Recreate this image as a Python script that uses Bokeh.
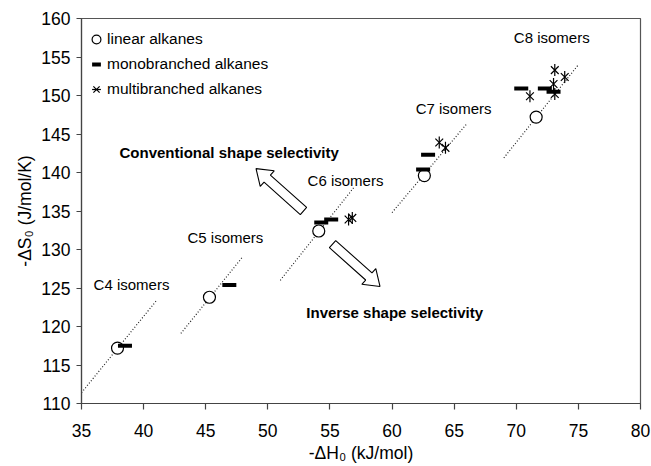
import math
from bokeh.plotting import figure
from bokeh.models import Legend, LegendItem, FixedTicker
from bokeh.core.properties import value
from bokeh.embed import file_html
from bokeh.resources import INLINE

# ---- data ----
linear_x = [37.9, 45.3, 54.1, 62.6, 71.6]
linear_y = [117.2, 123.8, 132.4, 139.6, 147.2]

mono_x = [38.5, 46.9, 54.3, 55.1, 62.5, 62.9, 70.4, 72.3, 73.0]
mono_y = [117.5, 125.4, 133.5, 133.9, 140.4, 142.3, 150.9, 150.9, 150.5]

multi_x = [56.5, 56.8, 63.8, 64.3, 71.1, 73.1, 73.9, 73.0, 73.1]
multi_y = [133.9, 134.1, 143.9, 143.2, 149.9, 153.3, 152.4, 151.5, 150.2]

trend_x0 = [35.0, 43.0, 51.0, 60.0, 69.0]
trend_y0 = [111.4, 119.1, 126.0, 134.8, 141.9]
trend_x1 = [41.0, 47.9, 56.9, 66.0, 75.0]
trend_y1 = [123.3, 128.9, 138.0, 146.3, 154.0]

group_labels = ["C4 isomers", "C5 isomers", "C6 isomers", "C7 isomers", "C8 isomers"]
x_ticks = [35, 40, 45, 50, 55, 60, 65, 70, 75, 80]
y_ticks = [110, 115, 120, 125, 130, 135, 140, 145, 150, 155, 160]

# ---- layout ----
X_MIN, X_MAX, Y_MIN, Y_MAX = 35, 80, 110, 160
W, H = 651, 466
BL, BR, BT, BB = 81, 11, 18, 63
FW, FH = W - BL - BR, H - BT - BB
SX = FW / (X_MAX - X_MIN)
SY = FH / (Y_MAX - Y_MIN)
FONT = "Liberation Sans"

p = figure(width=W, height=H, x_range=(X_MIN, X_MAX), y_range=(Y_MIN, Y_MAX),
           output_backend="svg", toolbar_location=None,
           min_border_left=BL, min_border_right=BR, min_border_top=BT, min_border_bottom=BB)
p.xgrid.visible = False
p.ygrid.visible = False
p.outline_line_color = "#555555"
p.outline_line_width = 1.2
p.background_fill_color = "white"
p.border_fill_color = "white"

for ax in (p.xaxis[0], p.yaxis[0]):
    ax.axis_line_color = "#444444"
    ax.axis_line_width = 1.2
    ax.major_tick_line_color = "#444444"
    ax.major_tick_line_width = 1.2
    ax.major_tick_in = 0
    ax.minor_tick_line_color = None
    ax.major_label_text_font = FONT
    ax.major_label_text_font_size = "17.5px"
    ax.major_label_text_color = "black"
    ax.axis_label_text_font = FONT
    ax.axis_label_text_font_size = "17.5px"
    ax.axis_label_text_font_style = "normal"
    ax.axis_label_text_color = "black"

p.xaxis.ticker = FixedTicker(ticks=x_ticks)
p.yaxis.ticker = FixedTicker(ticks=y_ticks)
p.xaxis.major_tick_out = 6
p.yaxis.major_tick_out = 5
p.xaxis.major_label_standoff = 14
p.yaxis.major_label_standoff = 6
p.xaxis.axis_label = "-ΔH₀ (kJ/mol)"
p.yaxis.axis_label = "-ΔS₀ (J/mol/K)"
p.xaxis.axis_label_standoff = 3
p.yaxis.axis_label_standoff = 3

# dotted trend lines
p.segment(x0=trend_x0, y0=trend_y0, x1=trend_x1, y1=trend_y1,
          line_color="#222222", line_width=1.2, line_dash="1 2")

# hollow block arrows
def block_arrow(x0, y0, x1, y1, shaft=9.5, head_w=21.0, head_len=15.0):
    ax0, ay0 = x0 * SX, y0 * SY
    ax1, ay1 = x1 * SX, y1 * SY
    dx, dy = ax1 - ax0, ay1 - ay0
    L = math.hypot(dx, dy)
    ux, uy = dx / L, dy / L
    nx, ny = -uy, ux
    bx, by = ax1 - ux * head_len, ay1 - uy * head_len
    pts = [
        (ax0 + nx * shaft / 2, ay0 + ny * shaft / 2),
        (bx + nx * shaft / 2, by + ny * shaft / 2),
        (bx + nx * head_w / 2, by + ny * head_w / 2),
        (ax1, ay1),
        (bx - nx * head_w / 2, by - ny * head_w / 2),
        (bx - nx * shaft / 2, by - ny * shaft / 2),
        (ax0 - nx * shaft / 2, ay0 - ny * shaft / 2),
    ]
    return [q[0] / SX for q in pts], [q[1] / SY for q in pts]

for (a, b, c, d) in [(52.87, 135.0, 49.05, 140.5), (55.21, 130.7, 59.03, 125.2)]:
    xs, ys = block_arrow(a, b, c, d)
    p.patch(xs, ys, fill_color="white", line_color="black", line_width=1.1)

# markers
r_lin = p.scatter(linear_x, linear_y, marker="circle", size=12,
                  fill_color="white", line_color="black", line_width=1.2)
r_mono = p.scatter(mono_x, mono_y, marker="dash", size=14,
                   line_color="black", line_width=4)
r_multi_x = p.scatter(multi_x, multi_y, marker="x", size=11,
                      line_color="black", line_width=1.2)
r_multi_v = p.scatter(multi_x, multi_y, marker="dash", size=12, angle=math.pi / 2,
                      line_color="black", line_width=1.2)

# text annotations
p.text(x=[35.97, 43.53, 53.2, 61.9, 69.8], y=[125.4, 131.5, 138.9, 148.25, 157.5],
       text=group_labels, text_font=value(FONT), text_font_size="15px",
       text_baseline="middle", text_align="left", text_color="black")
p.text(x=[38.06, 53.1], y=[142.66, 121.8],
       text=["Conventional shape selectivity", "Inverse shape selectivity"],
       text_font=value(FONT), text_font_size="15px", text_font_style="bold",
       text_baseline="middle", text_align="left", text_color="black")

legend = Legend(items=[
    LegendItem(label="linear alkanes", renderers=[r_lin]),
    LegendItem(label="monobranched alkanes", renderers=[r_mono]),
    LegendItem(label="multibranched alkanes", renderers=[r_multi_x, r_multi_v]),
], location=(4, FH - 9 - 74))
legend.glyph_width = 22
legend.glyph_height = 24
legend.label_height = 24
legend.spacing = 1
legend.padding = 0
legend.margin = 0
legend.label_standoff = 0
legend.border_line_alpha = 0
legend.background_fill_alpha = 0
legend.label_text_font = FONT
legend.label_text_font_size = "15.5px"
legend.label_text_color = "black"
p.add_layout(legend, "center")

open("out.html", "w").write(file_html(p, INLINE))
